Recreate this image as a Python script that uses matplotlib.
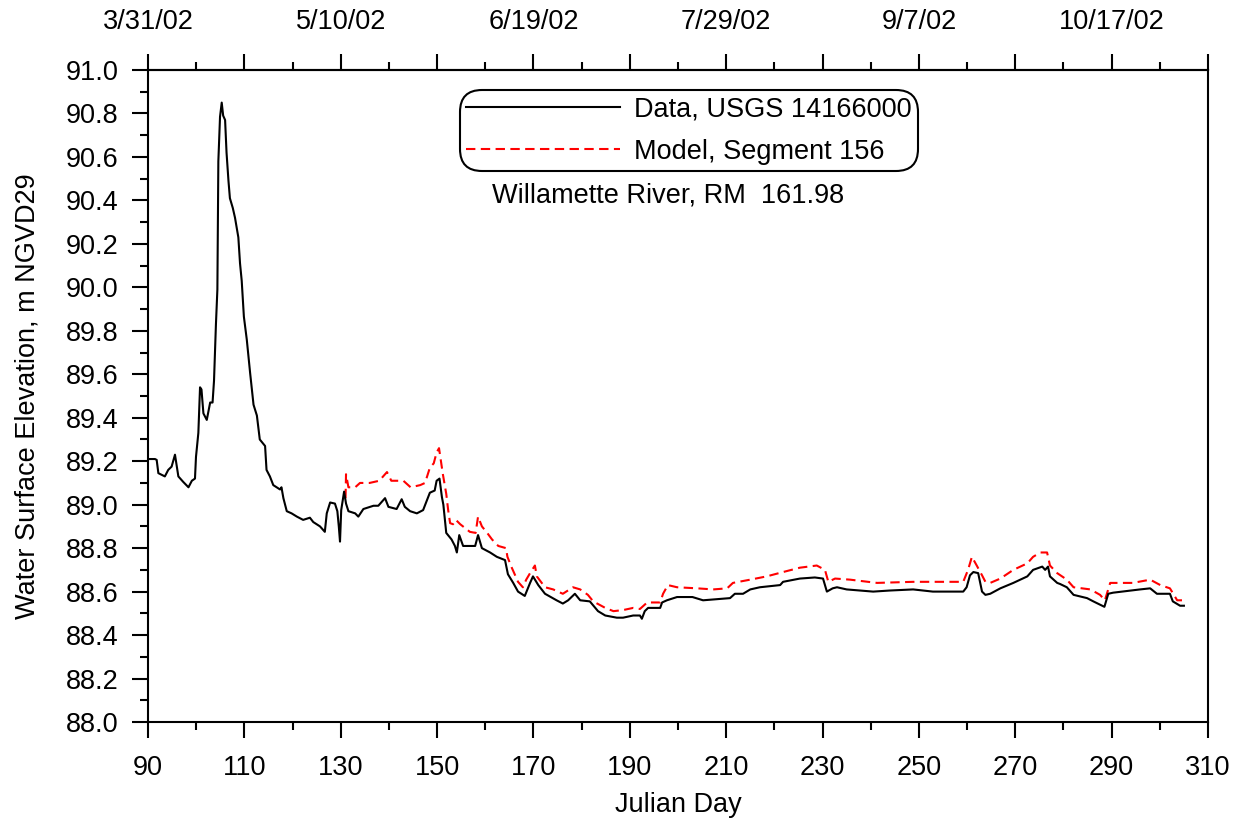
import matplotlib
matplotlib.use("Agg")
import matplotlib.pyplot as plt
from matplotlib.ticker import MultipleLocator, FixedLocator, FuncFormatter, FormatStrFormatter

plt.rcParams['font.family'] = ['Liberation Sans', 'DejaVu Sans']

# Observed data, USGS 14166000 (Julian day, water surface elevation m NGVD29)
data_day = [90.0, 91.45, 91.8, 92.15, 93.5, 94.2, 94.9, 95.6, 96.3, 97.3, 98.4, 99.1, 99.75,
            99.96, 100.45, 100.8, 101.1, 101.5, 102.2, 102.9, 103.4, 103.7, 104.1, 104.4,
            104.6, 104.95, 105.3, 105.6, 106.0, 106.3, 106.7, 107.0, 107.6, 108.06, 108.75,
            109.1, 109.45, 109.9, 110.5, 111.2, 111.9, 112.6, 113.2, 114.3, 114.6, 115.3,
            116.0, 116.7, 117.4, 117.7, 118.1, 118.8, 119.8, 120.9, 122.2, 123.6, 124.3,
            125.7, 126.7, 127.1, 127.8, 128.8, 129.3, 129.6, 129.85, 130.1, 130.7, 131.1,
            131.6, 133.0, 133.65, 134.7, 136.8, 137.8, 139.2, 139.9, 141.6, 142.65, 143.3,
            144.4, 145.8, 147.1, 148.5, 149.5, 149.9, 150.5, 151.0, 151.3, 151.9, 153.0,
            153.7, 154.1, 154.6, 155.4, 157.9, 158.5, 159.3, 161.0, 162.4, 164.1, 164.7,
            165.8, 166.8, 168.2, 169.3, 169.9, 171.0, 172.4, 174.8, 176.1, 177.2, 178.6,
            179.7, 181.7, 183.4, 184.9, 187.3, 188.6, 190.7, 192.1, 192.5, 193.1, 193.8,
            196.3, 196.7, 197.7, 199.8, 203.0, 205.2, 208.0, 210.8, 211.8, 213.5, 215.0,
            217.0, 221.2, 221.8, 225.3, 228.4, 230.1, 230.9, 232.1, 233.0, 235.0, 240.5,
            244.0, 248.8, 252.9, 259.2, 259.9, 260.6, 261.3, 262.3, 263.1, 263.8, 264.8,
            266.9, 269.6, 272.5, 273.7, 275.6, 276.2, 276.8, 277.2, 278.7, 279.3, 280.7,
            282.1, 284.9, 286.2, 287.6, 288.5, 289.3, 290.3, 295.9, 298.0, 299.4, 302.1,
            302.7, 304.2, 305.0]
data_elev = [89.21, 89.21, 89.206, 89.145, 89.13, 89.16, 89.175, 89.23, 89.13, 89.105, 89.08,
             89.11, 89.12, 89.22, 89.33, 89.54, 89.53, 89.42, 89.39, 89.47, 89.47, 89.57,
             89.83, 89.99, 90.58, 90.785, 90.85, 90.79, 90.77, 90.62, 90.49, 90.41, 90.365,
             90.32, 90.23, 90.11, 90.03, 89.865, 89.76, 89.605, 89.46, 89.41, 89.30, 89.27,
             89.16, 89.13, 89.09, 89.08, 89.07, 89.08, 89.03, 88.97, 88.96, 88.945, 88.93,
             88.94, 88.92, 88.90, 88.875, 88.96, 89.01, 89.005, 88.97, 88.90, 88.83, 88.975,
             89.06, 89.005, 88.97, 88.96, 88.945, 88.98, 88.995, 88.995, 89.03, 88.99, 88.98,
             89.025, 88.99, 88.97, 88.96, 88.975, 89.055, 89.065, 89.11, 89.12, 89.035, 89.0,
             88.87, 88.84, 88.81, 88.78, 88.86, 88.81, 88.81, 88.86, 88.80, 88.78, 88.76,
             88.745, 88.68, 88.64, 88.60, 88.58, 88.64, 88.67, 88.63, 88.59, 88.56, 88.545,
             88.56, 88.59, 88.56, 88.555, 88.51, 88.49, 88.48, 88.48, 88.49, 88.49, 88.475,
             88.51, 88.525, 88.525, 88.55, 88.56, 88.575, 88.575, 88.56, 88.565, 88.57, 88.59,
             88.59, 88.61, 88.62, 88.63, 88.645, 88.66, 88.665, 88.66, 88.60, 88.615, 88.62,
             88.61, 88.60, 88.605, 88.61, 88.60, 88.60, 88.62, 88.675, 88.69, 88.685, 88.60,
             88.585, 88.59, 88.615, 88.64, 88.67, 88.70, 88.715, 88.70, 88.715, 88.67, 88.64,
             88.635, 88.62, 88.585, 88.57, 88.555, 88.54, 88.53, 88.59, 88.595, 88.61, 88.615,
             88.59, 88.59, 88.555, 88.535, 88.535]

# Model, Segment 156
model_day = [131.0, 131.1, 131.6, 133.0, 134.0, 136.0, 138.0, 139.6, 140.5, 143.0, 144.5, 146.5,
             147.5, 148.5, 149.3, 149.9, 150.4, 150.8, 151.2, 151.9, 152.3, 152.7, 153.3,
             153.9, 154.8, 156.8, 158.0, 158.5, 159.3, 160.4, 161.4, 162.7, 164.3, 164.6,
             165.5, 166.8, 167.8, 168.5, 169.3, 170.3, 170.7, 172.4, 174.1, 176.1, 178.2,
             179.7, 181.3, 182.4, 184.9, 186.6, 188.6, 190.7, 192.1, 193.6, 196.3, 196.9,
             197.9, 199.8, 204.0, 207.3, 210.2, 211.4, 215.0, 218.4, 221.8, 225.3, 228.8,
             230.5, 231.2, 232.6, 235.7, 241.3, 248.8, 259.2, 260.2, 261.0, 262.0, 263.1,
             263.8, 264.8, 266.9, 269.6, 272.5, 273.7, 275.2, 276.6, 277.2, 278.7, 280.7,
             282.1, 285.6, 287.6, 288.6, 289.7, 294.4, 298.0, 300.1, 302.1, 303.6, 304.6]
model_elev = [89.03, 89.14, 89.08, 89.08, 89.10, 89.10, 89.11, 89.15, 89.11, 89.11, 89.08, 89.09,
              89.10, 89.17, 89.19, 89.24, 89.26, 89.20, 89.14, 89.05, 88.975, 88.915, 88.91,
              88.93, 88.91, 88.875, 88.87, 88.945, 88.90, 88.87, 88.84, 88.81, 88.80, 88.76,
              88.71, 88.645, 88.62, 88.655, 88.685, 88.72, 88.67, 88.62, 88.61, 88.59, 88.62,
              88.61, 88.585, 88.555, 88.525, 88.51, 88.515, 88.525, 88.52, 88.55, 88.55, 88.59,
              88.63, 88.62, 88.615, 88.61, 88.615, 88.64, 88.655, 88.67, 88.69, 88.71, 88.72,
              88.70, 88.645, 88.66, 88.655, 88.64, 88.645, 88.645, 88.70, 88.76, 88.72, 88.675,
              88.645, 88.64, 88.66, 88.70, 88.73, 88.76, 88.78, 88.78, 88.72, 88.685, 88.655,
              88.62, 88.61, 88.585, 88.56, 88.64, 88.64, 88.655, 88.63, 88.615, 88.56, 88.56]

x_major = list(range(90, 311, 20))
x_minor = list(range(100, 311, 20))
top_tick_days = [90, 130, 170, 210, 250, 290]
top_tick_labels = ['3/31/02', '5/10/02', '6/19/02', '7/29/02', '9/7/02', '10/17/02']

FS = 19.5

fig = plt.figure(figsize=(12.39, 8.19), dpi=100)
ax = fig.add_axes([148/1239, 1-722/819, 1060/1239, 652/819])

ax.plot(data_day, data_elev, color='black', lw=1.5, label='Data, USGS 14166000', zorder=3)
ax.plot(model_day, model_elev, color='red', lw=1.5, ls=(0, (4.5, 2.6)),
        label='Model, Segment 156', zorder=2)

ax.set_xlim(90, 310)
ax.set_ylim(88.0, 91.0)
ax.xaxis.set_major_locator(FixedLocator(x_major))
ax.xaxis.set_minor_locator(FixedLocator(x_minor))
ax.yaxis.set_major_locator(MultipleLocator(0.2))
ax.yaxis.set_minor_locator(MultipleLocator(0.1))
ax.yaxis.set_major_formatter(FormatStrFormatter('%.1f'))

for s in ax.spines.values():
    s.set_linewidth(1.5)

ax.tick_params(axis='both', which='major', direction='out', length=11.5, width=1.5,
               labelsize=FS)
ax.tick_params(axis='both', which='minor', direction='out', length=5.5, width=1.5)
ax.tick_params(axis='x', which='major', pad=12)
ax.tick_params(axis='y', which='major', pad=10)
ax.tick_params(right=False, which='both')

secax = ax.secondary_xaxis('top')
secax.xaxis.set_major_locator(FixedLocator(x_major))
secax.xaxis.set_minor_locator(FixedLocator(x_minor))
labels_map = dict(zip(top_tick_days, top_tick_labels))
secax.xaxis.set_major_formatter(FuncFormatter(
    lambda v, p: labels_map.get(int(round(v)), '')))
secax.tick_params(which='major', direction='out', length=11.5, width=1.5, labelsize=FS, pad=14)
secax.tick_params(which='minor', direction='out', length=5.5, width=1.5)
secax.spines['top'].set_linewidth(1.5)

ax.set_xlabel('Julian Day', fontsize=FS, labelpad=8)
ax.set_ylabel('Water Surface Elevation, m NGVD29', fontsize=FS, labelpad=18)

leg = ax.legend(loc='upper left', bbox_to_anchor=(0.2943, 0.969), fontsize=FS,
                handlelength=5.7, handletextpad=0.52, borderpad=0.22, labelspacing=0.62,
                borderaxespad=0, frameon=True, fancybox=True, framealpha=1,
                edgecolor='black')
leg.get_frame().set_linewidth(1.5)
leg.get_frame().set_boxstyle('round,pad=0,rounding_size=0.8')

ax.text(0.325, 0.807, 'Willamette River, RM  161.98', transform=ax.transAxes,
        fontsize=FS, va='center', ha='left')

fig.savefig('out.png', dpi=100)
